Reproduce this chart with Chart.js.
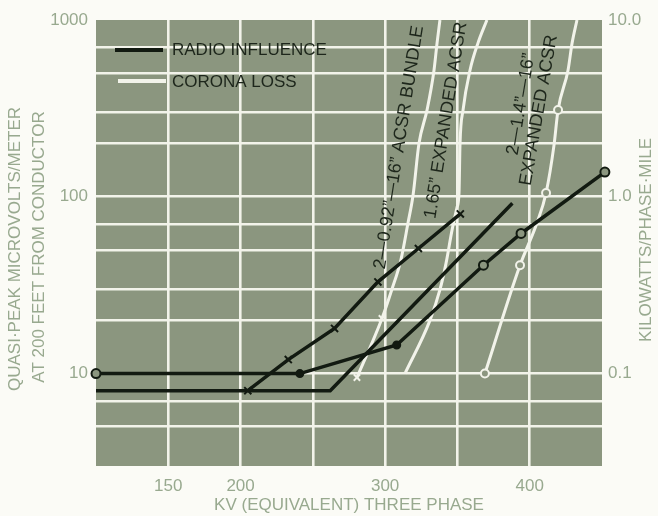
<!DOCTYPE html>
<html>
<head>
<meta charset="utf-8">
<script src="https://cdn.jsdelivr.net/npm/chart.js@4/dist/chart.umd.min.js"></script>
<style>
  html, body { margin: 0; padding: 0; background: #fbfbf6; }
  #wrap { width: 658px; height: 516px; position: relative; }
</style>
</head>
<body>
<div id="wrap"><canvas id="c" width="658" height="516"></canvas></div>
<script>
// Radio influence, quasi-peak microvolts/meter at 200 ft, against kV
const riBundleKv  = [205, 233, 265, 295, 323, 352];
const riBundleUv  = [8, 12, 18, 33, 51, 80];
const riAcsr165Kv = [100, 262, 388];
const riAcsr165Uv = [8, 8, 92];
const riExp14Kv   = [100, 241, 308, 368, 394, 452];
const riExp14Uv   = [10, 10, 14.5, 41, 62, 138];

// Corona loss, kilowatts per phase-mile, against kV
const clBundleKv  = [280.5, 297.8, 304.7, 310.9, 315.8, 319.3, 323.4, 329.0, 333.8, 335.9, 337.9];
const clBundleKw  = [0.095, 0.205, 0.30, 0.44, 0.71, 1.02, 2.0, 3.1, 5.2, 7.4, 10];
const clAcsr165Kv = [313.7, 331.0, 338.0, 342.1, 346.3, 349.7, 351.1, 351.8, 353.9, 358.7, 364.2, 370.4];
const clAcsr165Kw = [0.1, 0.2, 0.30, 0.42, 0.65, 0.87, 1.05, 2.0, 3.1, 5.2, 7.4, 10];
const clExp14Kv   = [369.0, 393.3, 405.0, 411.3, 416.8, 419.6, 426.5, 429.3, 432.7];
const clExp14Kw   = [0.1, 0.41, 0.71, 1.05, 1.96, 3.1, 5.2, 7.4, 10];

// Axis grids and tick labels
const kvGrid   = [100, 150, 200, 250, 300, 350, 400, 450];
const kvLabels = [150, 200, 300, 400];
const uvGrid   = [3, 5, 7, 10, 20, 30, 50, 70, 100, 200, 300, 500, 700, 1000];
const uvLabels = [10, 100, 1000];
const kwGrid   = [0.03, 0.1, 1, 10];
const kwLabels = ['0.1', '1.0', '10.0'];

// Series captions
const legendNames = ['RADIO INFLUENCE', 'CORONA LOSS'];
const captionBundle = '2\u20140.92\u201D\u201416\u201D ACSR BUNDLE';
const caption165 = '1.65\u201D EXPANDED ACSR';
const caption14a = '2\u20141.4\u201D\u201416\u201D';
const caption14b = 'EXPANDED ACSR';

const pts = (xs, ys) => xs.map((x, i) => ({ x: x, y: ys[i] }));

const INK = '#121a11';
const CHALK = '#f2f3ea';
const FIELD = '#8b967f';
const AXIS_TEXT = '#98a98f';
const FONT = '"Liberation Sans", Arial, sans-serif';

const near = (a, b) => Math.abs(a - b) < 1e-9 * Math.max(1, Math.abs(b));

const chartPlugin = {
  id: 'paperChart',
  beforeDraw(chart) {
    const { ctx, chartArea: a } = chart;
    ctx.save();
    ctx.fillStyle = FIELD;
    ctx.fillRect(a.left, a.top, a.right - a.left, a.bottom - a.top);
    ctx.restore();
  },
  afterDraw(chart) {
    const { ctx, chartArea: a, scales } = chart;
    const xs = scales.x, ys = scales.y;
    ctx.save();

    // legend
    ctx.lineCap = 'butt';
    ctx.lineWidth = 4;
    ctx.strokeStyle = INK;
    ctx.beginPath(); ctx.moveTo(a.left + 19, a.top + 30); ctx.lineTo(a.left + 67, a.top + 30); ctx.stroke();
    ctx.strokeStyle = CHALK;
    ctx.beginPath(); ctx.moveTo(a.left + 22, a.top + 61); ctx.lineTo(a.left + 70, a.top + 61); ctx.stroke();
    ctx.fillStyle = '#1d261b';
    ctx.font = '17px ' + FONT;
    ctx.textAlign = 'left';
    ctx.textBaseline = 'middle';
    ctx.fillText(legendNames[0], a.left + 76, a.top + 30);
    ctx.fillText(legendNames[1], a.left + 76, a.top + 62);

    // series captions along the curves
    const rotText = (txt, kv, uv, deg) => {
      ctx.save();
      ctx.translate(xs.getPixelForValue(kv), ys.getPixelForValue(uv));
      ctx.rotate(-deg * Math.PI / 180);
      ctx.textAlign = 'center';
      ctx.textBaseline = 'middle';
      ctx.fillText(txt, 0, 0);
      ctx.restore();
    };
    ctx.fillStyle = '#1d261b';
    ctx.font = '18px ' + FONT;
    rotText(captionBundle, 309.6, 190, 81);
    rotText(caption165, 342.1, 271, 81);
    rotText(caption14a, 394, 334, 80.5);
    rotText(caption14b, 406.4, 309, 80);

    // axis titles
    ctx.fillStyle = AXIS_TEXT;
    ctx.font = '17px ' + FONT;
    ctx.textAlign = 'center';
    ctx.textBaseline = 'middle';
    ctx.fillText('KV (EQUIVALENT) THREE PHASE', 349, 505);
    const vText = (txt, x, y) => {
      ctx.save(); ctx.translate(x, y); ctx.rotate(-Math.PI / 2);
      ctx.fillText(txt, 0, 0); ctx.restore();
    };
    vText('QUASI\u00B7PEAK MICROVOLTS/METER', 15, 249);
    vText('AT 200 FEET FROM CONDUCTOR', 39, 247);
    vText('KILOWATTS/PHASE\u00B7MILE', 646, 240);
    ctx.restore();
  }
};

const edgeGrid = (edges) => (ctx) => {
  const v = ctx.tick ? ctx.tick.value : null;
  return edges.some(e => near(v, e)) ? 'rgba(0,0,0,0)' : CHALK;
};

const solidDot = (c) => c.dataIndex === 1 || c.dataIndex === 2;

new Chart(document.getElementById('c'), {
  type: 'line',
  data: {
    datasets: [
      {
        label: 'RI 2-0.92 bundle', data: pts(riBundleKv, riBundleUv), yAxisID: 'y', order: 1,
        borderColor: INK, borderWidth: 3.5, pointStyle: 'crossRot', pointRadius: 5,
        pointBorderColor: INK, pointBorderWidth: 2, tension: 0
      },
      {
        label: 'RI 1.65 expanded', data: pts(riAcsr165Kv, riAcsr165Uv), yAxisID: 'y', order: 1,
        borderColor: INK, borderWidth: 3.5, pointRadius: 0, tension: 0
      },
      {
        label: 'RI 2-1.4 expanded', data: pts(riExp14Kv, riExp14Uv), yAxisID: 'y', order: 1,
        borderColor: INK, borderWidth: 3.5, pointStyle: 'circle',
        pointRadius: (c) => solidDot(c) ? 3.5 : 4.5,
        pointBorderColor: INK, pointBorderWidth: 2,
        pointBackgroundColor: (c) => solidDot(c) ? INK : FIELD,
        tension: 0, clip: false
      },
      {
        label: 'CL 2-0.92 bundle', data: pts(clBundleKv, clBundleKw), yAxisID: 'y2', order: 2,
        borderColor: CHALK, borderWidth: 3, cubicInterpolationMode: 'monotone',
        pointStyle: 'crossRot', pointRadius: (c) => c.dataIndex < 2 ? 4.5 : 0,
        pointBorderColor: CHALK, pointBorderWidth: 2
      },
      {
        label: 'CL 1.65 expanded', data: pts(clAcsr165Kv, clAcsr165Kw), yAxisID: 'y2', order: 2,
        borderColor: CHALK, borderWidth: 3, cubicInterpolationMode: 'monotone', pointRadius: 0
      },
      {
        label: 'CL 2-1.4 expanded', data: pts(clExp14Kv, clExp14Kw), yAxisID: 'y2', order: 2,
        borderColor: CHALK, borderWidth: 3, cubicInterpolationMode: 'monotone',
        pointStyle: 'circle',
        pointRadius: (c) => [0, 1, 3, 5].includes(c.dataIndex) ? 4 : 0,
        pointBorderColor: CHALK, pointBackgroundColor: FIELD, pointBorderWidth: 2
      }
    ]
  },
  options: {
    responsive: false,
    animation: false,
    devicePixelRatio: 1,
    layout: { padding: { top: 20, left: 0, right: 0, bottom: 0 } },
    plugins: { legend: { display: false }, tooltip: { enabled: false } },
    scales: {
      x: {
        type: 'linear', min: 100, max: 450,
        afterBuildTicks: (s) => { s.ticks = kvGrid.map(v => ({ value: v })); },
        afterFit: (s) => { s.height = 50; },
        grid: { color: edgeGrid([100, 450]), lineWidth: 2.6, drawTicks: false },
        border: { display: false },
        ticks: {
          autoSkip: false, maxRotation: 0, padding: 10, color: AXIS_TEXT,
          font: { family: FONT, size: 17 },
          callback: (v) => kvLabels.includes(v) ? String(v) : ''
        }
      },
      y: {
        type: 'logarithmic', position: 'left', min: 3, max: 1000,
        afterBuildTicks: (s) => { s.ticks = uvGrid.map(v => ({ value: v })); },
        afterFit: (s) => { s.width = 96; },
        grid: { color: edgeGrid([3, 1000]), lineWidth: 2.6, drawTicks: false },
        border: { display: false },
        ticks: {
          autoSkip: false, padding: 8, color: AXIS_TEXT,
          font: { family: FONT, size: 17 },
          callback: (v) => uvLabels.some(l => near(v, l)) ? String(v) : ''
        }
      },
      y2: {
        type: 'logarithmic', position: 'right', min: 0.03, max: 10,
        afterBuildTicks: (s) => { s.ticks = kwGrid.map(v => ({ value: v })); },
        afterFit: (s) => { s.width = 56; },
        grid: { display: false, drawTicks: false },
        border: { display: false },
        ticks: {
          autoSkip: false, padding: 6, color: AXIS_TEXT,
          font: { family: FONT, size: 17 },
          callback: (v) => {
            const i = kwGrid.findIndex(g => near(g, v));
            return i > 0 ? kwLabels[i - 1] : '';
          }
        }
      }
    }
  },
  plugins: [chartPlugin]
});
</script>
</body>
</html>
